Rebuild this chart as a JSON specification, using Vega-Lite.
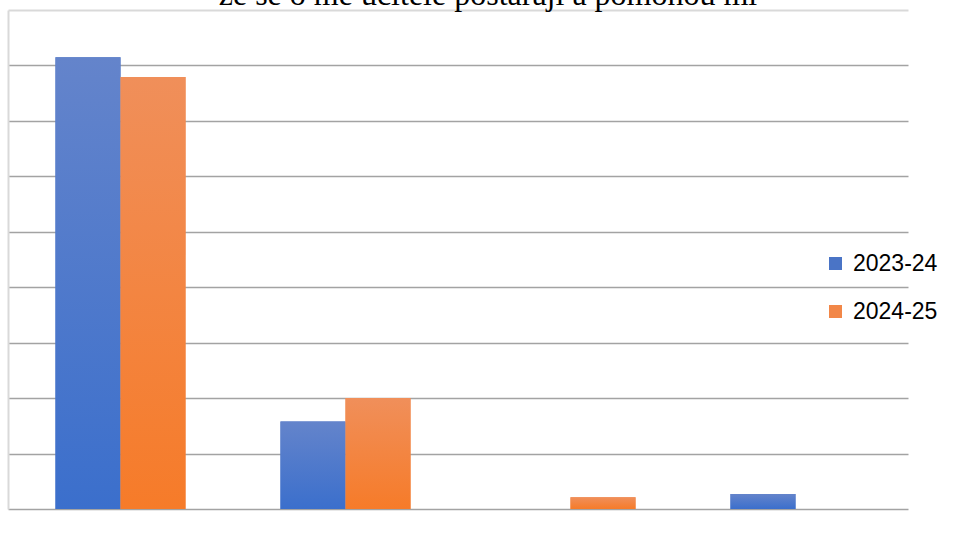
{
  "$schema": "https://vega.github.io/schema/vega-lite/v6.json",
  "autosize": "none",
  "width": 900,
  "height": 499,
  "padding": {"left": 8, "top": 10, "right": 47, "bottom": 51},
  "background": "white",
  "title": {
    "text": "že se o mě učitelé postarají a pomohou mi",
    "font": "Liberation Serif",
    "fontSize": 32,
    "fontWeight": "normal",
    "color": "#000000",
    "anchor": "middle",
    "frame": "group",
    "baseline": "alphabetic",
    "offset": 0,
    "dx": 30,
    "dy": 27
  },
  "config": {
    "view": {"stroke": null},
    "font": "Liberation Sans"
  },
  "data": {
    "values": [
      {"cat": "rozhodně ano", "series": "2023-24", "value": 81.5},
      {"cat": "rozhodně ano", "series": "2024-25", "value": 77.9},
      {"cat": "spíše ano", "series": "2023-24", "value": 15.8},
      {"cat": "spíše ano", "series": "2024-25", "value": 20.0},
      {"cat": "spíše ne", "series": "2023-24", "value": 0},
      {"cat": "spíše ne", "series": "2024-25", "value": 2.1},
      {"cat": "rozhodně ne", "series": "2023-24", "value": 2.7},
      {"cat": "rozhodně ne", "series": "2024-25", "value": 0}
    ]
  },
  "encoding": {
    "x": {
      "field": "cat",
      "type": "nominal",
      "sort": null,
      "scale": {"paddingInner": 0.422, "paddingOuter": 0.211},
      "axis": {
        "orient": "top",
        "title": null,
        "labels": false,
        "ticks": false,
        "domain": true,
        "domainColor": "#d9d9d9",
        "domainWidth": 2,
        "minExtent": 0,
        "maxExtent": 0
      }
    },
    "xOffset": {
      "field": "series",
      "type": "nominal",
      "scale": {"domain": ["2023-24", "2024-25"], "paddingInner": 0, "paddingOuter": 0}
    },
    "y": {
      "field": "value",
      "type": "quantitative",
      "scale": {"domain": [0, 90], "nice": false, "zero": true},
      "axis": {
        "title": null,
        "labels": false,
        "ticks": false,
        "domain": true,
        "domainColor": "#d9d9d9",
        "domainWidth": 2,
        "grid": true,
        "gridColor": "#a3a3a3",
        "gridWidth": 1.5,
        "values": [0, 10, 20, 30, 40, 50, 60, 70, 80]
      }
    }
  },
  "layer": [
    {
      "mark": {"type": "bar"},
      "encoding": {
        "color": {
          "field": "series",
          "type": "nominal",
          "scale": {"domain": ["2023-24", "2024-25"], "range": ["#4a74c6", "#f28748"]},
          "legend": {
            "title": null,
            "orient": "none",
            "legendX": 816,
            "legendY": 242,
            "padding": 0,
            "symbolType": "square",
            "symbolSize": 169,
            "symbolStrokeWidth": 0,
            "labelFont": "Liberation Sans",
            "labelFontSize": 23,
            "labelColor": "#000000",
            "labelOffset": 6,
            "rowPadding": 24
          }
        }
      }
    },
    {
      "transform": [{"filter": "datum.series === '2023-24'"}],
      "mark": {
        "type": "bar",
        "fill": {
          "gradient": "linear",
          "x1": 0, "y1": 0, "x2": 0, "y2": 1,
          "stops": [
            {"offset": 0, "color": "#6484cb"},
            {"offset": 1, "color": "#3b6fcc"}
          ]
        }
      }
    },
    {
      "transform": [{"filter": "datum.series === '2024-25'"}],
      "mark": {
        "type": "bar",
        "fill": {
          "gradient": "linear",
          "x1": 0, "y1": 0, "x2": 0, "y2": 1,
          "stops": [
            {"offset": 0, "color": "#f08f5a"},
            {"offset": 1, "color": "#f67b29"}
          ]
        }
      }
    }
  ]
}
